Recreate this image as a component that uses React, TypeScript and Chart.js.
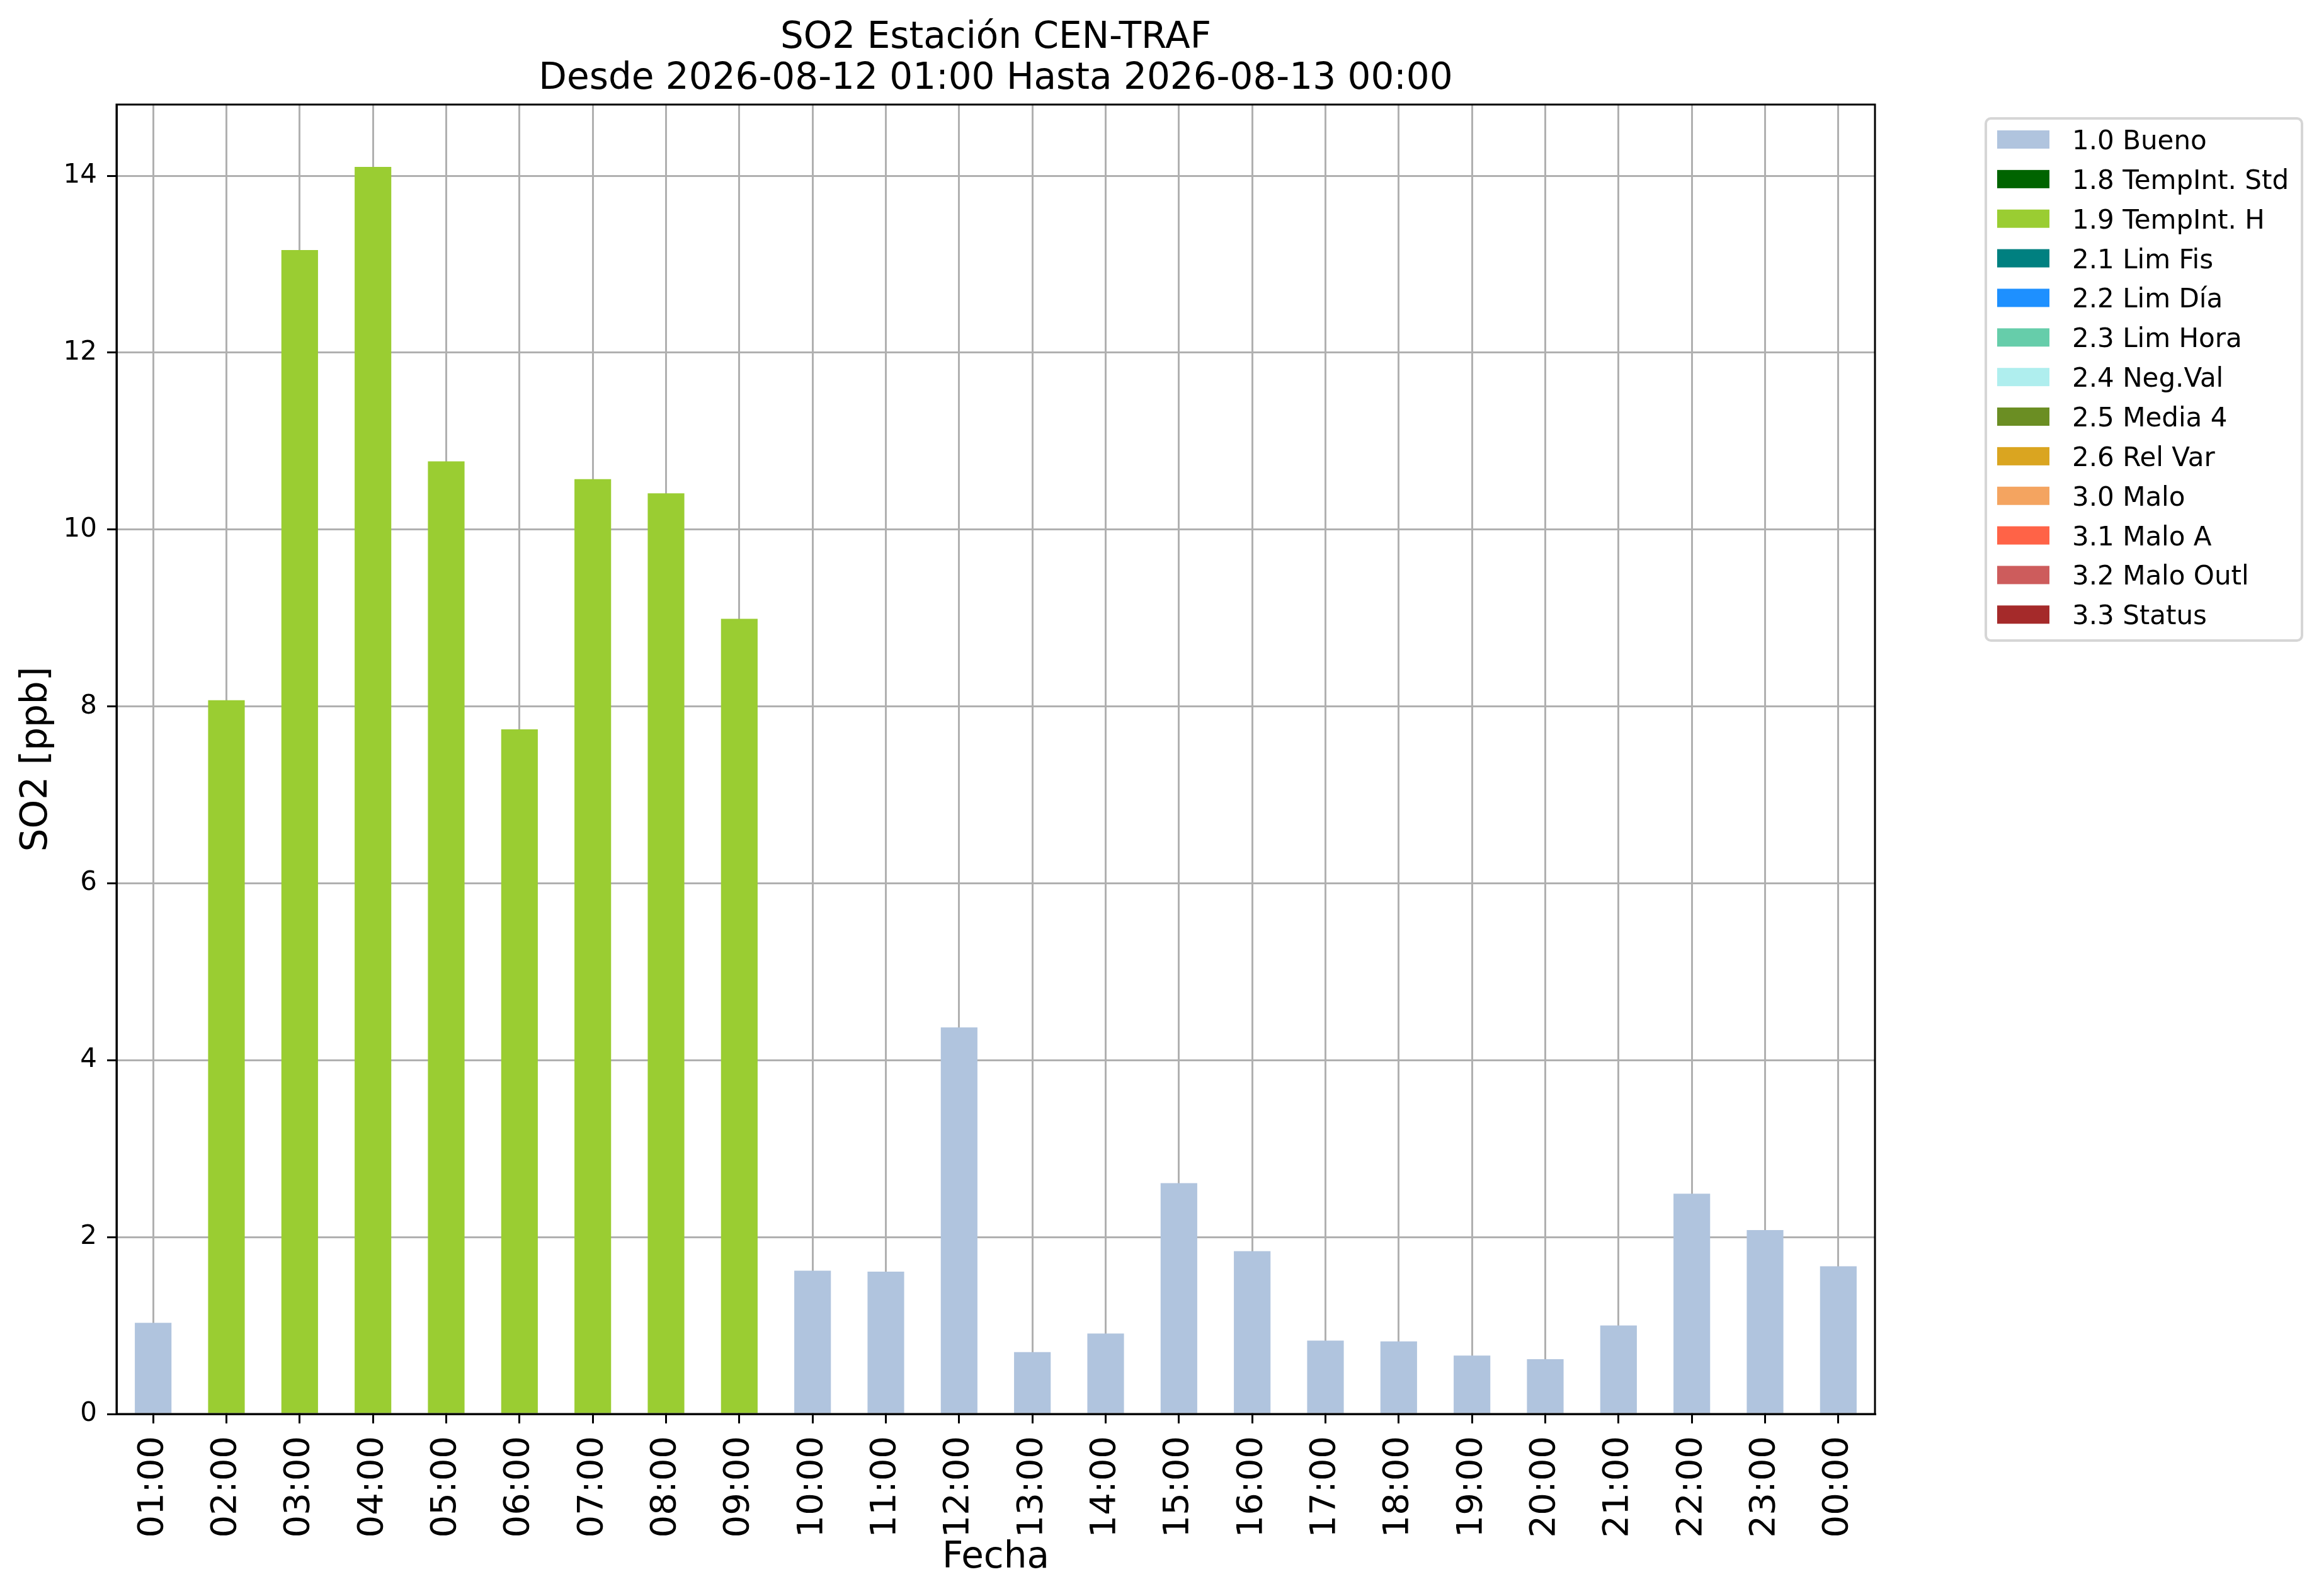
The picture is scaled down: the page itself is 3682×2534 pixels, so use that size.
import React, { useEffect, useRef } from 'react';
import { Chart, registerables } from 'chart.js';

Chart.register(...registerables);

const FONT = "'DejaVu Sans', 'Liberation Sans', sans-serif";

const hours = [
    '01:00', '02:00', '03:00', '04:00', '05:00', '06:00', '07:00', '08:00',
    '09:00', '10:00', '11:00', '12:00', '13:00', '14:00', '15:00', '16:00',
    '17:00', '18:00', '19:00', '20:00', '21:00', '22:00', '23:00', '00:00',
];

const so2Values = [
    1.03, 8.07, 13.16, 14.1, 10.77, 7.74, 10.57, 10.41,
    8.99, 1.62, 1.61, 4.37, 0.7, 0.91, 2.61, 1.84,
    0.83, 0.82, 0.66, 0.62, 1.0, 2.49, 2.08, 1.67,
];

// validation flag of each hour
const hourFlags = [
    '1.0', '1.9', '1.9', '1.9', '1.9', '1.9', '1.9', '1.9',
    '1.9', '1.0', '1.0', '1.0', '1.0', '1.0', '1.0', '1.0',
    '1.0', '1.0', '1.0', '1.0', '1.0', '1.0', '1.0', '1.0',
];

const flagCodes = ['1.0', '1.8', '1.9', '2.1', '2.2', '2.3', '2.4', '2.5', '2.6', '3.0', '3.1', '3.2', '3.3'];
const flagNames = [
    '1.0 Bueno', '1.8 TempInt. Std', '1.9 TempInt. H', '2.1 Lim Fis', '2.2 Lim Día',
    '2.3 Lim Hora', '2.4 Neg.Val', '2.5 Media 4', '2.6 Rel Var', '3.0 Malo',
    '3.1 Malo A', '3.2 Malo Outl', '3.3 Status',
];
const flagColors = [
    '#b0c4de', '#006400', '#9acd32', '#008080', '#1e90ff', '#66cdaa', '#afeeee',
    '#6b8e23', '#daa520', '#f4a460', '#ff6347', '#cd5c5c', '#a52a2a',
];

const yTicks = [0, 2, 4, 6, 8, 10, 12, 14];
const yMax = 14.805;

const titleLines = ['SO2 Estación CEN-TRAF', 'Desde 2026-08-12 01:00 Hasta 2026-08-13 00:00'];

// frame, title and legend drawn on the canvas after the chart
const extrasPlugin = {
    id: 'extras',
    afterDraw(chart: Chart) {
        const { ctx, chartArea: a } = chart;
        ctx.save();

        // axes box
        ctx.strokeStyle = '#000';
        ctx.lineWidth = 3;
        ctx.strokeRect(a.left, a.top, a.right - a.left, a.bottom - a.top);

        // title
        ctx.fillStyle = '#000';
        ctx.font = `58px ${FONT}`;
        ctx.textAlign = 'center';
        ctx.textBaseline = 'alphabetic';
        const cx = (a.left + a.right) / 2;
        ctx.fillText(titleLines[0], cx, 76);
        ctx.fillText(titleLines[1], cx, 141);

        // legend
        ctx.beginPath();
        ctx.roundRect(3153, 188, 502, 829, 8);
        ctx.fillStyle = '#fff';
        ctx.fill();
        ctx.strokeStyle = '#d6d6d6';
        ctx.lineWidth = 4;
        ctx.stroke();

        ctx.font = `42px ${FONT}`;
        ctx.textAlign = 'left';
        chart.data.datasets.forEach((ds, i) => {
            const top = 207 + i * 62.86;
            ctx.fillStyle = ds.backgroundColor as string;
            ctx.fillRect(3171, top, 83, 29);
            ctx.fillStyle = '#000';
            ctx.fillText(ds.label as string, 3290, top + 30);
        });

        ctx.restore();
    },
};

const App: React.FC = () => {
    const canvasRef = useRef<HTMLCanvasElement>(null);

    useEffect(() => {
        if (!canvasRef.current) return;

        const datasets = flagCodes.map((code, i) => ({
            label: flagNames[i],
            data: so2Values.map((v, j) => (hourFlags[j] === code ? v : null)),
            backgroundColor: flagColors[i],
            borderWidth: 0,
            barPercentage: 0.5,
            categoryPercentage: 1,
        }));

        const chart = new Chart(canvasRef.current, {
            type: 'bar',
            data: { labels: hours, datasets },
            plugins: [extrasPlugin],
            options: {
                animation: false,
                responsive: true,
                maintainAspectRatio: false,
                devicePixelRatio: 1,
                layout: { padding: { left: 0, right: 705, top: 166, bottom: 0 } },
                plugins: {
                    legend: { display: false },
                    title: { display: false },
                    tooltip: { enabled: false },
                },
                scales: {
                    x: {
                        stacked: true,
                        offset: true,
                        z: 1,
                        afterFit: (scale) => {
                            scale.height = 289;
                        },
                        grid: {
                            offset: false,
                            color: '#b0b0b0',
                            lineWidth: 3,
                            drawTicks: true,
                            tickLength: 15,
                            tickColor: '#000',
                            tickWidth: 3,
                        },
                        border: { display: true, color: '#000', width: 3 },
                        ticks: {
                            autoSkip: false,
                            minRotation: 90,
                            maxRotation: 90,
                            padding: 20,
                            color: '#000',
                            font: { family: FONT, size: 56 },
                        },
                        title: {
                            display: true,
                            text: 'Fecha',
                            color: '#000',
                            font: { family: FONT, size: 58 },
                            padding: { top: 0, bottom: 25 },
                        },
                    },
                    y: {
                        stacked: true,
                        min: 0,
                        max: yMax,
                        z: 1,
                        afterFit: (scale) => {
                            scale.width = 185;
                        },
                        afterBuildTicks: (scale) => {
                            scale.ticks = yTicks.map((v) => ({ value: v }));
                        },
                        grid: {
                            color: '#b0b0b0',
                            lineWidth: 3,
                            drawTicks: true,
                            tickLength: 15,
                            tickColor: '#000',
                            tickWidth: 3,
                        },
                        border: { display: true, color: '#000', width: 3 },
                        ticks: {
                            padding: 16,
                            color: '#000',
                            font: { family: FONT, size: 42 },
                        },
                        title: {
                            display: true,
                            text: 'SO2 [ppb]',
                            color: '#000',
                            font: { family: FONT, size: 58 },
                            padding: { top: 24, bottom: 0 },
                        },
                    },
                },
            },
        });

        return () => {
            chart.destroy();
        };
    }, []);

    return (
        <div style={{ position: 'fixed', left: 0, top: 0, width: 3682, height: 2534, background: '#fff' }}>
            <canvas ref={canvasRef}></canvas>
        </div>
    );
};

export default App;
